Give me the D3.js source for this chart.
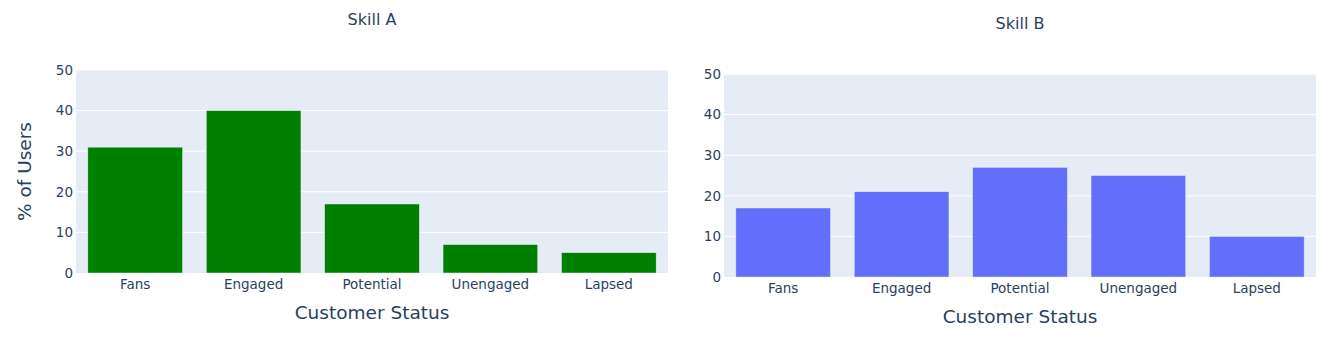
<!DOCTYPE html>
<html>
<head>
<meta charset="utf-8">
<script src="https://cdn.jsdelivr.net/npm/d3@7"></script>
<style>
  body { margin: 0; background: #fff; }
  text { font-family: "DejaVu Sans", verdana, arial, sans-serif; fill: #2a3f5f; }
</style>
</head>
<body>
<div id="chart"></div>
<script>
// categories and values
const categories = ["Fans", "Engaged", "Potential", "Unengaged", "Lapsed"];
const skillA = [31, 40, 17, 7, 5];
const skillB = [17, 21, 27, 25, 10];
const yTicks = [0, 10, 20, 30, 40, 50];

const W = 1337, H = 337;

const svg = d3.select("#chart")
    .append("svg")
    .attr("width", W)
    .attr("height", H);

// two panels side by side
const panels = [
    { title: "Skill A", values: skillA, color: "green", x0: 76, x1: 668, y0: 70, y1: 273, titleY: 25, yTitle: "% of Users" },
    { title: "Skill B", values: skillB, color: "#636efa", x0: 724, x1: 1316, y0: 74, y1: 277, titleY: 29, yTitle: null }
];

panels.forEach(p => {
    const x = d3.scaleBand()
        .domain(categories)
        .range([p.x0, p.x1])
        .paddingInner(0.2)
        .paddingOuter(0.1);

    const y = d3.scaleLinear()
        .domain([0, 50])
        .range([p.y1, p.y0]);

    const g = svg.append("g");

    // plot background
    g.append("rect")
        .attr("x", p.x0)
        .attr("y", p.y0)
        .attr("width", p.x1 - p.x0)
        .attr("height", p.y1 - p.y0)
        .attr("fill", "#E5ECF6");

    // gridlines
    g.selectAll("line.grid")
        .data(yTicks.filter(t => t > 0))
        .join("line")
        .attr("class", "grid")
        .attr("x1", p.x0)
        .attr("x2", p.x1)
        .attr("y1", d => y(d))
        .attr("y2", d => y(d))
        .attr("stroke", "#fff")
        .attr("stroke-width", 1);

    // bars
    g.selectAll("rect.bar")
        .data(categories.map((c, i) => ({ cat: c, val: p.values[i] })))
        .join("rect")
        .attr("class", "bar")
        .attr("x", d => x(d.cat))
        .attr("y", d => y(d.val))
        .attr("width", x.bandwidth())
        .attr("height", d => y(0) - y(d.val))
        .attr("fill", p.color)
        .attr("stroke", "#E5ECF6")
        .attr("stroke-width", 0.5);

    // y axis
    const yAxis = g.append("g")
        .attr("transform", `translate(${p.x0},0)`)
        .call(d3.axisLeft(y).tickValues(yTicks).tickSize(0).tickPadding(3));
    yAxis.select(".domain").remove();
    yAxis.selectAll("text")
        .style("font-family", "'DejaVu Sans', verdana, sans-serif")
        .style("font-size", "13.5px")
        .attr("fill", "#2a3f5f");

    // x axis
    const xAxis = g.append("g")
        .attr("transform", `translate(0,${p.y1})`)
        .call(d3.axisBottom(x).tickSize(0).tickPadding(6));
    xAxis.select(".domain").remove();
    xAxis.selectAll("text")
        .style("font-family", "'DejaVu Sans', verdana, sans-serif")
        .style("font-size", "13.5px")
        .attr("fill", "#2a3f5f");

    // subplot title
    g.append("text")
        .attr("x", (p.x0 + p.x1) / 2)
        .attr("y", p.titleY)
        .attr("text-anchor", "middle")
        .style("font-size", "16px")
        .text(p.title);

    // x axis title
    g.append("text")
        .attr("x", (p.x0 + p.x1) / 2)
        .attr("y", p.y1 + 46)
        .attr("text-anchor", "middle")
        .style("font-size", "18.5px")
        .text("Customer Status");

    // y axis title
    if (p.yTitle) {
        g.append("text")
            .attr("transform", `translate(31,${(p.y0 + p.y1) / 2}) rotate(-90)`)
            .attr("text-anchor", "middle")
            .style("font-size", "18.5px")
            .text(p.yTitle);
    }
});
</script>
</body>
</html>
